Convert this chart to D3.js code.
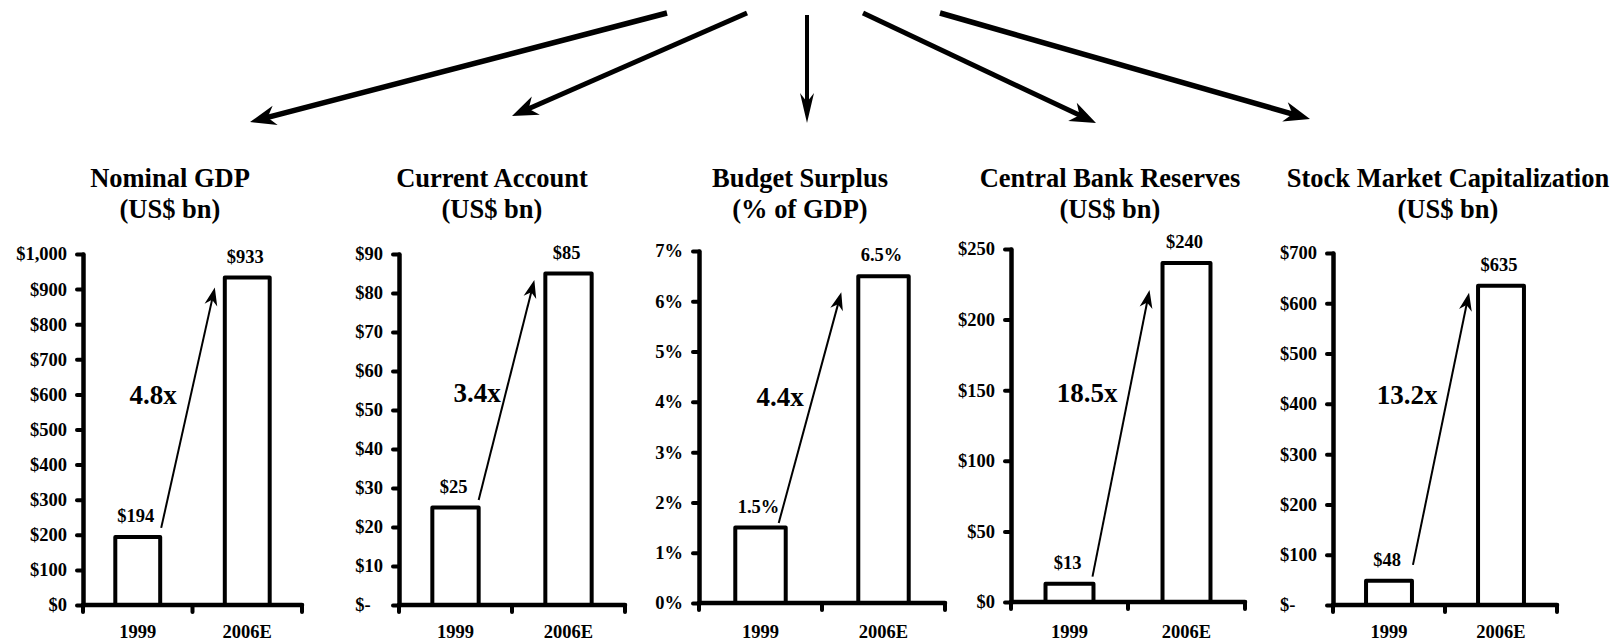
<!DOCTYPE html>
<html>
<head>
<meta charset="utf-8">
<script src="https://cdn.jsdelivr.net/npm/d3@7"></script>
<style>
  html, body { margin: 0; padding: 0; background: #fff; }
  svg { display: block; font-family: "Liberation Serif", "Times New Roman", serif; font-weight: bold; }
  svg text { font-family: "Liberation Serif", "Times New Roman", serif; font-weight: bold; }
</style>
</head>
<body>
<svg id="chart" width="1618" height="642"></svg>
<script>
// ---- data ----
const categories = ["1999", "2006E"];

const panelTitles = [
  ["Nominal GDP", "(US$ bn)"],
  ["Current Account", "(US$ bn)"],
  ["Budget Surplus", "(% of GDP)"],
  ["Central Bank Reserves", "(US$ bn)"],
  ["Stock Market Capitalization", "(US$ bn)"]
];

const gdpValues = [194, 933];
const currentAccountValues = [25, 85];
const budgetSurplusValues = [1.5, 6.5];
const reservesValues = [13, 240];
const marketCapValues = [48, 635];

const gdpLabels = ["$194", "$933"];
const currentAccountLabels = ["$25", "$85"];
const budgetSurplusLabels = ["1.5%", "6.5%"];
const reservesLabels = ["$13", "$240"];
const marketCapLabels = ["$48", "$635"];

const multiples = ["4.8x", "3.4x", "4.4x", "18.5x", "13.2x"];

const gdpTicks = [0, 100, 200, 300, 400, 500, 600, 700, 800, 900, 1000];
const gdpTickLabels = ["$0", "$100", "$200", "$300", "$400", "$500", "$600", "$700", "$800", "$900", "$1,000"];
const currentAccountTicks = [0, 10, 20, 30, 40, 50, 60, 70, 80, 90];
const currentAccountTickLabels = ["$-", "$10", "$20", "$30", "$40", "$50", "$60", "$70", "$80", "$90"];
const budgetSurplusTicks = [0, 1, 2, 3, 4, 5, 6, 7];
const budgetSurplusTickLabels = ["0%", "1%", "2%", "3%", "4%", "5%", "6%", "7%"];
const reservesTicks = [0, 50, 100, 150, 200, 250];
const reservesTickLabels = ["$0", "$50", "$100", "$150", "$200", "$250"];
const marketCapTicks = [0, 100, 200, 300, 400, 500, 600, 700];
const marketCapTickLabels = ["$-", "$100", "$200", "$300", "$400", "$500", "$600", "$700"];

const panels = [
  { title: panelTitles[0], values: gdpValues, labels: gdpLabels, ticks: gdpTicks, tickLabels: gdpTickLabels, multiple: multiples[0] },
  { title: panelTitles[1], values: currentAccountValues, labels: currentAccountLabels, ticks: currentAccountTicks, tickLabels: currentAccountTickLabels, multiple: multiples[1] },
  { title: panelTitles[2], values: budgetSurplusValues, labels: budgetSurplusLabels, ticks: budgetSurplusTicks, tickLabels: budgetSurplusTickLabels, multiple: multiples[2] },
  { title: panelTitles[3], values: reservesValues, labels: reservesLabels, ticks: reservesTicks, tickLabels: reservesTickLabels, multiple: multiples[3] },
  { title: panelTitles[4], values: marketCapValues, labels: marketCapLabels, ticks: marketCapTicks, tickLabels: marketCapTickLabels, multiple: multiples[4] }
];

// ---- layout (pixel geometry of each small chart) ----
const layout = [
  { x0: 83,   x1: 302,  yTop: 254, yBase: 605, titleX: 170,  multX: 153,  multY: 395, arrow: [1, -9, -10, 10] },
  { x0: 399,  x1: 625,  yTop: 254, yBase: 605, titleX: 492,  multX: 477,  multY: 393, arrow: [0, -7.5, -11, 6.5] },
  { x0: 699,  x1: 945,  yTop: 251, yBase: 603, titleX: 800,  multX: 780,  multY: 397, arrow: [-7, -4.5, -17, 16] },
  { x0: 1011, x1: 1245, yTop: 249, yBase: 602, titleX: 1110, multX: 1087, multY: 393, arrow: [-1, -7, -13, 27] },
  { x0: 1333, x1: 1557, yTop: 253, yBase: 605, titleX: 1448, multX: 1407, multY: 395, arrow: [1, -16, -9, 7] }
];

// fan of connector arrows across the top: [x1, y1, x2, y2, lineWidth, headLength, headHalfWidth]
const topArrows = [
  [667, 13, 250, 122, 5.5, 26, 10],
  [747, 13, 512, 116, 5, 26, 10],
  [807, 15, 807, 123, 4, 30, 7],
  [863, 13, 1096, 123, 5, 26, 10],
  [940, 13, 1310, 119, 5.5, 26, 10]
];

const FONT = '"Liberation Serif", "Times New Roman", serif';
const TICK_SIZE = 18.5;
const svg = d3.select("#chart");

// stealth-style arrow: shaft plus notched triangular head
function drawArrow(g, x1, y1, x2, y2, lw, headLen, headHalf, notch) {
  const a = Math.atan2(y2 - y1, x2 - x1);
  const ux = Math.cos(a), uy = Math.sin(a);
  const px = -uy, py = ux;
  const bx = x2 - ux * headLen, by = y2 - uy * headLen;
  const nx = x2 - ux * headLen * (1 - notch), ny = y2 - uy * headLen * (1 - notch);
  g.append("line")
    .attr("x1", x1).attr("y1", y1).attr("x2", nx + ux * 2).attr("y2", ny + uy * 2)
    .attr("stroke", "#000").attr("stroke-width", lw);
  g.append("path")
    .attr("d", `M${x2},${y2}L${bx + px * headHalf},${by + py * headHalf}L${nx},${ny}L${bx - px * headHalf},${by - py * headHalf}Z`)
    .attr("fill", "#000");
}

const topG = svg.append("g");
topArrows.forEach(a => drawArrow(topG, a[0], a[1], a[2], a[3], a[4], a[5], a[6], 0.3));

panels.forEach((p, i) => {
  const L = layout[i];
  const g = svg.append("g");

  const x = d3.scaleBand().domain(categories).range([L.x0, L.x1]).paddingInner(0.59).paddingOuter(0.295);
  const y = d3.scaleLinear().domain([0, d3.max(p.ticks)]).range([L.yBase, L.yTop]);
  const step = x.step();

  // title
  const t = g.append("text").attr("text-anchor", "middle").attr("font-size", 26.5);
  t.append("tspan").attr("x", L.titleX).attr("y", 187).text(p.title[0]);
  t.append("tspan").attr("x", L.titleX).attr("y", 218).text(p.title[1]);

  // bars
  g.selectAll("rect.bar").data(p.values).join("rect")
    .attr("class", "bar")
    .attr("x", (d, j) => x(categories[j]))
    .attr("y", d => y(d))
    .attr("width", x.bandwidth())
    .attr("height", d => L.yBase - y(d))
    .attr("fill", "#fff").attr("stroke", "#000").attr("stroke-width", 4)
    .attr("stroke-linejoin", "round");

  // value labels
  g.selectAll("text.val").data(p.values).join("text")
    .attr("class", "val")
    .attr("x", (d, j) => x(categories[j]) + x.bandwidth() / 2 - 2)
    .attr("y", d => y(d) - 15)
    .attr("text-anchor", "middle").attr("font-size", 18.5)
    .text((d, j) => p.labels[j]);

  // y axis
  const yAxis = d3.axisLeft(y).tickValues(p.ticks).tickFormat((d, j) => p.tickLabels[j])
    .tickSize(6).tickSizeOuter(0).tickPadding(10);
  const ya = g.append("g").attr("transform", `translate(${L.x0},0)`).call(yAxis)
    .attr("font-family", FONT).attr("font-size", TICK_SIZE);
  ya.select(".domain").attr("stroke", "#000").attr("stroke-width", 4.5).attr("stroke-linecap", "round");
  ya.selectAll(".tick line").attr("stroke", "#000").attr("stroke-width", 4).attr("stroke-linecap", "round");
  ya.selectAll(".tick text").attr("fill", "#000");
  // accounting-style zero label sits flush left with the widest label
  let minLeft = 0;
  ya.selectAll(".tick text").each(function () {
    const w = this.getComputedTextLength();
    minLeft = Math.min(minLeft, -16 - w);
  });
  ya.selectAll(".tick text").filter(function () { return d3.select(this).text() === "$-"; })
    .attr("text-anchor", "start").attr("x", minLeft);

  // x axis: baseline, boundary ticks, category labels
  g.append("line").attr("x1", L.x0).attr("x2", L.x1).attr("y1", L.yBase).attr("y2", L.yBase)
    .attr("stroke", "#000").attr("stroke-width", 4.5).attr("stroke-linecap", "round");
  g.selectAll("line.xt").data(d3.range(categories.length + 1)).join("line")
    .attr("class", "xt")
    .attr("x1", k => L.x0 + k * step).attr("x2", k => L.x0 + k * step)
    .attr("y1", L.yBase).attr("y2", L.yBase + 7)
    .attr("stroke", "#000").attr("stroke-width", 4).attr("stroke-linecap", "round");
  const xAxis = d3.axisBottom(x).tickSize(0).tickPadding(0);
  const xa = g.append("g").attr("transform", `translate(0,${L.yBase})`).call(xAxis)
    .attr("font-family", FONT).attr("font-size", TICK_SIZE);
  xa.select(".domain").remove();
  xa.selectAll(".tick text").attr("fill", "#000").attr("dy", null).attr("y", 638 - L.yBase);

  // growth arrow from the 1999 bar to the 2006E bar
  const a = L.arrow;
  const sx = x(categories[0]) + x.bandwidth() + a[0], sy = y(p.values[0]) + a[1];
  const ex = x(categories[1]) + a[2], ey = y(p.values[1]) + a[3];
  drawArrow(g, sx, sy, ex, ey, 2, 18, 6.5, 0.3);

  // multiple label
  g.append("text").attr("x", L.multX).attr("y", L.multY)
    .attr("text-anchor", "middle").attr("dominant-baseline", "central")
    .attr("font-size", 27).text(p.multiple);
});
</script>
</body>
</html>
